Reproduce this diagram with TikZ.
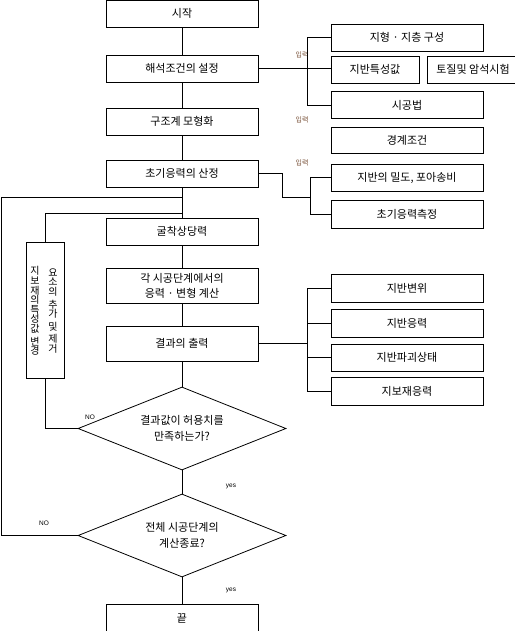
\documentclass[tikz,border=0pt]{standalone}
\usepackage{fontspec}
\setmainfont{Noto Sans CJK KR}
\newfontfamily\latinfont{Liberation Sans}
\usetikzlibrary{shapes.geometric,calc}
\definecolor{inputcol}{RGB}{120,80,55}
\begin{document}
\begin{tikzpicture}[x=1pt,y=-1pt,line width=0.8pt,
  mbox/.style={draw,minimum width=152pt,minimum height=27pt,inner sep=0pt,align=center,font=\fontsize{11}{15}\selectfont},
  rbox/.style={draw,minimum width=152pt,minimum height=27pt,inner sep=0pt,font=\fontsize{11}{14}\selectfont},
  dia/.style={draw,diamond,aspect=2.5,minimum width=208pt,minimum height=83pt,inner sep=0pt,align=center,font=\fontsize{11}{16}\selectfont},
  inlabel/.style={inner sep=0pt,text=inputcol,font=\fontsize{7}{8}\selectfont},
  tinylabel/.style={inner sep=0pt,font=\latinfont\fontsize{6.5}{8}\selectfont},
  vtext/.style={inner sep=0pt,align=center,font=\fontsize{10}{9.6}\selectfont}]
\fill[white] (0,0) rectangle (514,631);
\useasboundingbox (0,0) rectangle (514,631);

% main column
\node[mbox] (start) at (182,13.5) {시작};
\node[mbox] (setup) at (182,68.5) {해석조건의 설정};
\node[mbox] (model) at (182,121.5) {구조계 모형화};
\node[mbox] (init) at (182,173.5) {초기응력의 산정};
\node[mbox] (excav) at (182,231.5) {굴착상당력};
\node[mbox,minimum height=35pt] (calc) at (182,285.5) {각 시공단계에서의\\응력 · 변형 계산};
\node[mbox,minimum height=35pt] (out) at (182,343.5) {결과의 출력};
\node[dia] (d1) at (182,428.5) {결과값이 허용치를\\만족하는가?};
\node[dia] (d2) at (182,535.5) {전체 시공단계의\\계산종료?};
\node[mbox,minimum height=30pt] (end) at (182,619) {끝};

% right boxes
\node[rbox] (r1) at (407,37.5) {지형 · 지층 구성};
\node[rbox,minimum width=88pt] (r2) at (375,69.5) {지반특성값};
\node[rbox,minimum width=92pt] (r2b) at (473,69.5) {토질및 암석시험};
\node[rbox] (r3) at (407,105) {시공법};
\node[rbox,minimum height=26pt] (r4) at (407,140) {경계조건};
\node[rbox] (r5) at (407,177.5) {지반의 밀도, 포아송비};
\node[rbox,minimum height=28pt] (r6) at (407,214) {초기응력측정};
\node[rbox,minimum height=28pt] (r7) at (407,288) {지반변위};
\node[rbox,minimum height=28pt] (r8) at (407,323) {지반응력};
\node[rbox] (r9) at (407,357.5) {지반파괴상태};
\node[rbox,minimum height=28pt] (r10) at (407,391) {지보재응력};

% side box
\node[draw,minimum width=38pt,minimum height=136pt,inner sep=0pt] (side) at (45,310) {};
\node[vtext] (colL) at (35,311) {지\\보\\재\\의\\특\\성\\값\\[3pt]변\\경};
\node[vtext] (colR) at (53,311) {요\\소\\의\\[3pt]추\\가\\[3pt]및\\[3pt]제\\거};

% labels
\node[inlabel] (in1) at (302,55) {입력};
\node[inlabel] (in2) at (302,119.5) {입력};
\node[inlabel] (in3) at (302,163) {입력};
\node[tinylabel] (no1) at (90,417) {NO};
\node[tinylabel] (no2) at (44,523) {NO};
\node[tinylabel] (yes1) at (231,486) {yes};
\node[tinylabel] (yes2) at (231,590) {yes};

% helper coordinates
\coordinate (b1) at (307,0);
\coordinate (b2) at (310,0);
\coordinate (k1) at (282,197);
\coordinate (j1) at (182,197);
\coordinate (j2) at (182,213);
\coordinate (lx) at (1,0);

% main line
\draw (start) -- (setup);
\draw (setup) -- (model);
\draw (model) -- (init);
\draw (init) -- (excav);
\draw (excav) -- (calc);
\draw (calc) -- (out);
\draw (out) -- (d1);
\draw (d1) -- (d2);
\draw (d2) -- (end);

% inputs
\draw (setup.east) -- (setup.east -| r2.west);
\draw (r1.west) -- (r1.west -| b1) -- (r3.west -| b1) -- (r3.west);
\draw ($(model.south east)+(0,-4)$) -- ($(model.south east)+(0,-4)$ -| r4.west);
\draw (init.east) -| (k1) -- (k1 -| b2);
\draw (r5.west) -- (r5.west -| b2) -- (r6.west -| b2) -- (r6.west);

% outputs
\draw (out.east) -- (out.east -| b1);
\draw (r7.west) -- (r7.west -| b1) -- (r10.west -| b1) -- (r10.west);
\draw (r8.west) -- (r8.west -| b1);
\draw (r9.west) -- (r9.west -| b1);

% loops
\draw (d2.west) -- (d2.west -| lx) |- (j1);
\draw (d1.west) -| (side.south);
\draw (side.north) |- (j2);
\end{tikzpicture}
\end{document}
